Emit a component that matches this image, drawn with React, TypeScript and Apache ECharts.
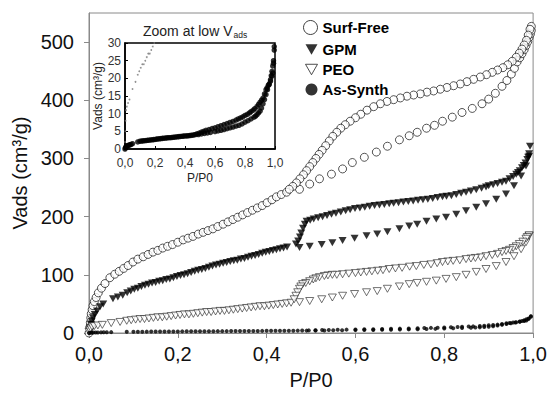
import { useEffect, useRef } from 'react';
import * as echarts from 'echarts';

const FONT = '"Liberation Sans", Arial, Helvetica, sans-serif';
const TRI_DOWN = 'path://M0,0L10,0L5,8.7Z';

const seriesNames = ['Surf-Free', 'GPM', 'PEO', 'As-Synth'];

const surfFreeAds: [number, number][] = [
  [0, 0], [0.002, 10], [0.003, 18], [0.004, 26], [0.005, 33], [0.007, 40], [0.009, 47], [0.012, 54],
  [0.016, 61], [0.021, 69], [0.028, 77], [0.036, 85], [0.047, 95], [0.058, 101], [0.068, 106], [0.078, 111],
  [0.088, 116], [0.099, 122], [0.11, 127], [0.122, 131], [0.133, 135], [0.144, 139], [0.155, 142], [0.166, 146],
  [0.177, 149], [0.188, 152], [0.2, 156], [0.212, 160], [0.223, 163], [0.234, 166], [0.246, 170], [0.257, 173],
  [0.268, 176], [0.279, 179], [0.29, 183], [0.302, 187], [0.313, 191], [0.324, 195], [0.335, 199], [0.346, 203],
  [0.357, 207], [0.368, 211], [0.379, 215], [0.39, 219], [0.401, 224], [0.412, 229], [0.422, 234], [0.433, 238],
  [0.445, 242], [0.474, 247], [0.497, 256], [0.519, 265], [0.546, 273], [0.571, 282], [0.593, 293], [0.62, 302],
  [0.647, 311], [0.672, 321], [0.699, 332], [0.721, 339], [0.739, 345], [0.76, 352], [0.778, 357], [0.796, 364],
  [0.818, 371], [0.84, 379], [0.863, 386], [0.885, 394], [0.9, 402], [0.915, 412], [0.93, 424], [0.941, 434],
  [0.951, 445], [0.958, 455], [0.964, 466], [0.97, 473], [0.975, 480], [0.98, 487], [0.984, 494], [0.988, 501],
  [0.991, 508], [0.994, 514], [0.996, 520],
];
const surfFreeDes: [number, number][] = [
  [0.996, 527], [0.993, 522], [0.989, 512], [0.985, 503], [0.98, 495], [0.975, 488], [0.969, 481], [0.962, 474],
  [0.953, 467], [0.943, 461], [0.932, 456], [0.92, 452], [0.908, 448], [0.895, 444], [0.881, 440], [0.866, 436],
  [0.851, 432], [0.836, 428], [0.821, 425], [0.806, 422], [0.791, 419], [0.776, 416], [0.761, 414], [0.746, 411],
  [0.731, 409], [0.716, 407], [0.701, 404], [0.686, 401], [0.671, 398], [0.656, 394], [0.641, 389], [0.626, 383],
  [0.612, 376], [0.6, 370], [0.588, 364], [0.577, 358], [0.567, 352], [0.558, 345], [0.549, 338], [0.541, 330],
  [0.533, 322], [0.525, 314], [0.518, 307], [0.511, 300], [0.504, 293], [0.497, 286], [0.49, 279], [0.483, 272],
  [0.475, 265], [0.467, 258], [0.459, 252], [0.451, 247],
];

const gpmAds: [number, number][] = [
  [0, 3], [0.002, 9], [0.004, 15], [0.006, 20], [0.009, 26], [0.013, 32], [0.018, 38], [0.025, 45], [0.032, 50],
  [0.054, 59], [0.065, 62], [0.076, 65], [0.086, 69], [0.094, 72], [0.102, 75], [0.11, 77], [0.118, 80],
  [0.126, 82], [0.134, 84], [0.142, 86], [0.15, 87], [0.158, 89], [0.166, 90], [0.174, 92], [0.182, 93],
  [0.19, 95], [0.198, 97], [0.206, 99], [0.214, 100], [0.222, 102], [0.23, 104], [0.238, 106], [0.246, 108],
  [0.254, 109], [0.262, 111], [0.27, 113], [0.278, 115], [0.286, 117], [0.294, 118], [0.302, 120], [0.31, 121],
  [0.318, 123], [0.326, 124], [0.334, 125], [0.342, 127], [0.35, 128], [0.358, 130], [0.366, 132], [0.374, 133],
  [0.382, 135], [0.39, 137], [0.398, 139], [0.406, 140], [0.414, 142], [0.422, 143], [0.43, 145], [0.438, 146],
  [0.446, 148], [0.474, 147], [0.497, 149], [0.524, 152], [0.548, 155], [0.571, 159], [0.598, 163], [0.625, 167],
  [0.649, 170], [0.672, 174], [0.699, 179], [0.721, 184], [0.739, 187], [0.76, 192], [0.782, 196], [0.804, 199],
  [0.827, 204], [0.849, 210], [0.872, 216], [0.894, 222], [0.917, 230], [0.939, 239], [0.957, 253], [0.973, 270],
  [0.984, 287], [0.991, 304],
];
const gpmDes: [number, number][] = [
  [0.993, 321], [0.991, 308], [0.989, 302], [0.987, 298], [0.983, 292], [0.979, 288], [0.975, 284], [0.97, 279],
  [0.966, 276], [0.962, 273], [0.955, 269], [0.947, 265], [0.939, 261], [0.93, 259], [0.92, 257], [0.91, 255],
  [0.9, 253], [0.894, 251], [0.884, 249], [0.872, 246], [0.86, 244], [0.849, 242], [0.838, 240], [0.827, 238],
  [0.816, 236], [0.805, 235], [0.796, 234], [0.785, 233], [0.774, 231], [0.763, 230], [0.752, 229], [0.741, 228],
  [0.73, 227], [0.719, 226], [0.708, 225], [0.697, 224], [0.686, 223], [0.676, 222], [0.665, 221], [0.654, 220],
  [0.643, 219], [0.632, 218], [0.621, 216], [0.61, 215], [0.599, 214], [0.588, 212], [0.578, 210], [0.567, 208],
  [0.556, 206], [0.546, 204], [0.536, 202], [0.526, 200], [0.516, 198], [0.506, 196], [0.498, 194], [0.49, 192],
  [0.486, 187], [0.482, 180], [0.478, 172], [0.475, 165], [0.471, 158], [0.466, 153],
];

const peoAds: [number, number][] = [
  [0, 2], [0.002, 5], [0.004, 8], [0.007, 11], [0.012, 12], [0.02, 13], [0.03, 14], [0.05, 17], [0.07, 19],
  [0.085, 21], [0.095, 22], [0.105, 23], [0.115, 24], [0.125, 24], [0.135, 25], [0.145, 26], [0.155, 27],
  [0.165, 27], [0.175, 28], [0.185, 29], [0.195, 30], [0.205, 31], [0.215, 32], [0.225, 32], [0.235, 33],
  [0.245, 34], [0.255, 35], [0.265, 36], [0.275, 36], [0.285, 37], [0.295, 38], [0.305, 38], [0.315, 39],
  [0.325, 40], [0.335, 41], [0.345, 42], [0.355, 43], [0.365, 44], [0.375, 45], [0.385, 46], [0.395, 46],
  [0.405, 47], [0.415, 48], [0.425, 49], [0.435, 50], [0.445, 51], [0.455, 52], [0.474, 53], [0.497, 55],
  [0.524, 58], [0.548, 61], [0.571, 64], [0.598, 67], [0.625, 70], [0.649, 72], [0.672, 76], [0.699, 80],
  [0.721, 84], [0.739, 86], [0.76, 88], [0.782, 90], [0.804, 93], [0.827, 96], [0.849, 100], [0.872, 105],
  [0.894, 110], [0.917, 115], [0.939, 122], [0.957, 132], [0.973, 144], [0.984, 156], [0.991, 167],
];
const peoDes: [number, number][] = [
  [0.991, 168], [0.987, 165], [0.984, 162], [0.977, 157], [0.969, 153], [0.962, 149], [0.955, 146], [0.947, 143],
  [0.939, 141], [0.93, 139], [0.92, 136], [0.908, 134], [0.894, 132], [0.882, 130], [0.87, 129], [0.86, 128],
  [0.849, 127], [0.835, 125], [0.82, 124], [0.808, 123], [0.796, 122], [0.784, 120], [0.77, 118], [0.754, 117],
  [0.737, 115], [0.722, 114], [0.705, 112], [0.69, 111], [0.676, 110], [0.662, 108], [0.65, 107], [0.637, 106],
  [0.625, 105], [0.612, 104], [0.6, 103], [0.585, 102], [0.571, 101], [0.558, 100], [0.548, 100], [0.538, 99],
  [0.53, 98], [0.519, 96], [0.511, 94], [0.505, 92], [0.497, 89], [0.488, 86], [0.481, 84], [0.477, 80],
  [0.474, 76], [0.47, 70], [0.466, 64], [0.462, 58],
];

const asSynthAds: [number, number][] = [
  [0, 0], [0.003, 0.3], [0.006, 0.6], [0.01, 0.8], [0.015, 0.9], [0.02, 1.0], [0.027, 1.1], [0.033, 1.2],
  [0.04, 1.3], [0.05, 1.5], [0.085, 2.0], [0.1, 2.2], [0.11, 2.25], [0.12, 2.3], [0.13, 2.35], [0.14, 2.4],
  [0.15, 2.45], [0.16, 2.5], [0.17, 2.55], [0.18, 2.6], [0.19, 2.65], [0.2, 2.7], [0.21, 2.8], [0.22, 2.85],
  [0.23, 2.9], [0.24, 2.95], [0.25, 3.0], [0.26, 3.05], [0.27, 3.1], [0.28, 3.15], [0.29, 3.2], [0.3, 3.2],
  [0.31, 3.25], [0.32, 3.3], [0.33, 3.35], [0.34, 3.4], [0.35, 3.45], [0.36, 3.5], [0.37, 3.55], [0.38, 3.6],
  [0.39, 3.65], [0.4, 3.7], [0.41, 3.7], [0.42, 3.75], [0.43, 3.8], [0.44, 3.85], [0.45, 3.9], [0.46, 4.0],
  [0.49, 4.1], [0.51, 4.25], [0.53, 4.4], [0.55, 4.55], [0.57, 4.7], [0.6, 4.95], [0.62, 5.1], [0.64, 5.3],
  [0.66, 5.5], [0.68, 5.75], [0.7, 6.0], [0.72, 6.2], [0.74, 6.5], [0.76, 6.7], [0.78, 7.1], [0.8, 7.6],
  [0.82, 8.0], [0.84, 8.5], [0.86, 9.0], [0.87, 9.3], [0.88, 9.7], [0.89, 10.2], [0.9, 10.7], [0.91, 11.6],
  [0.92, 12.8], [0.93, 14], [0.94, 15.4], [0.95, 16.8], [0.96, 18.2], [0.97, 19.6], [0.975, 20.8], [0.98, 22],
  [0.985, 23.5], [0.99, 25], [0.995, 29],
];
const asSynthDes: [number, number][] = [
  [0.995, 28], [0.99, 24.3], [0.985, 21.5], [0.98, 20.6], [0.97, 19.2], [0.962, 18.4], [0.955, 18],
  [0.947, 17.3], [0.94, 16.8], [0.93, 15.6], [0.92, 14.4], [0.91, 13.8], [0.9, 13.2], [0.89, 12.6],
  [0.88, 12], [0.865, 11.4], [0.855, 11], [0.84, 10.6], [0.83, 10.2], [0.815, 9.8], [0.8, 9.5], [0.785, 9.1],
  [0.77, 8.8], [0.755, 8.5], [0.74, 8.2], [0.72, 7.8], [0.7, 7.5], [0.68, 7.2], [0.66, 6.9], [0.64, 6.6],
  [0.62, 6.3], [0.6, 6.0], [0.58, 5.8], [0.56, 5.5], [0.54, 5.3], [0.525, 5.0], [0.51, 4.8], [0.495, 4.5],
  [0.48, 4.3], [0.47, 4.1],
];

const fmt = (v: number) => v.toFixed(1).replace('.', ',');

export default function App() {
  const ref = useRef<HTMLDivElement>(null);
  useEffect(() => {
    document.body.style.margin = '0';
    const chart = echarts.init(ref.current!, null, { renderer: 'svg' });
    const gray = '#8a8a8a';
    chart.setOption({
      animation: false,
      backgroundColor: '#fff',
      textStyle: { fontFamily: FONT },
      grid: [
        { left: 89, right: 16, top: 13, bottom: 61, show: true, borderColor: gray, borderWidth: 1 },
        { left: 125, right: 275, top: 43, bottom: 246, show: true, borderColor: '#000', borderWidth: 1.5 },
      ],
      xAxis: [
        {
          gridIndex: 0, type: 'value', min: 0, max: 1, interval: 0.2,
          name: 'P/P0', nameLocation: 'middle', nameGap: 37,
          nameTextStyle: { fontSize: 20, color: '#111', fontFamily: FONT },
          axisLine: { lineStyle: { color: gray } },
          axisTick: { show: true, length: 5, lineStyle: { color: gray } },
          axisLabel: { fontSize: 20, margin: 11, color: '#111', fontFamily: FONT, formatter: fmt },
          splitLine: { show: false },
        },
        {
          gridIndex: 1, type: 'value', min: 0, max: 1, interval: 0.2,
          name: 'P/P0', nameLocation: 'middle', nameGap: 23,
          nameTextStyle: { fontSize: 12, color: '#222', fontFamily: FONT },
          axisLine: { lineStyle: { color: '#000', width: 1.5 } },
          axisTick: { show: true, inside: true, length: 3, lineStyle: { color: '#000' } },
          axisLabel: { fontSize: 12, margin: 8, color: '#333', fontFamily: FONT, formatter: fmt },
          splitLine: { show: false },
        },
      ],
      yAxis: [
        {
          gridIndex: 0, type: 'value', min: 0, max: 550, interval: 100,
          name: 'Vads (cm³/g)', nameLocation: 'middle', nameGap: 58,
          nameTextStyle: { fontSize: 20, color: '#111', fontFamily: FONT },
          axisLine: { show: true, lineStyle: { color: gray } },
          axisTick: { show: true, length: 5, lineStyle: { color: gray } },
          axisLabel: { fontSize: 20, margin: 15, color: '#111', fontFamily: FONT, showMaxLabel: false },
          splitLine: { show: false },
        },
        {
          gridIndex: 1, type: 'value', min: 0, max: 30, interval: 5,
          name: 'Vads (cm³/g)', nameLocation: 'middle', nameGap: 21,
          nameTextStyle: { fontSize: 12, color: '#222', fontFamily: FONT },
          axisLine: { show: true, lineStyle: { color: '#000', width: 1.5 } },
          axisTick: { show: true, inside: true, length: 3, lineStyle: { color: '#000' } },
          axisLabel: { fontSize: 12, margin: 4, color: '#333', fontFamily: FONT },
          splitLine: { show: false },
        },
      ],
      legend: [
        {
          data: [{ name: seriesNames[0], icon: 'circle' }],
          left: 303, top: 20, padding: 0, orient: 'vertical', itemWidth: 14, itemHeight: 14,
          selectedMode: false,
          itemStyle: { borderWidth: 1 },
          textStyle: { fontSize: 15, lineHeight: 14, fontWeight: 'bold', color: '#000', fontFamily: FONT },
        },
        {
          data: [
            { name: seriesNames[1], icon: TRI_DOWN },
            { name: seriesNames[2], icon: TRI_DOWN },
            { name: seriesNames[3], icon: 'circle' },
          ],
          left: 305, top: 42, padding: 0, orient: 'vertical', itemWidth: 12, itemHeight: 12, itemGap: 5,
          selectedMode: false,
          itemStyle: { borderWidth: 1 },
          textStyle: { fontSize: 15, lineHeight: 12, fontWeight: 'bold', color: '#000', fontFamily: FONT },
        },
      ],
      graphic: [
        {
          type: 'text', x: 143, y: 23,
          style: {
            text: '{a|Zoom at low V}{b|ads}',
            fontFamily: FONT,
            fill: '#222',
            rich: {
              a: { fontSize: 14, fontFamily: 'Liberation Sans', fill: '#222', lineHeight: 16 },
              b: { fontSize: 8.5, fontFamily: 'Liberation Sans', fill: '#222', lineHeight: 16, padding: [8, 0, 0, 1] },
            },
          },
        },
      ],
      series: [
        {
          name: seriesNames[0], type: 'scatter', xAxisIndex: 0, yAxisIndex: 0,
          data: [...surfFreeAds, ...surfFreeDes], symbol: 'circle', symbolSize: 8,
          itemStyle: { color: '#fff', borderColor: '#111', borderWidth: 0.9 },
        },
        {
          name: seriesNames[1], type: 'scatter', xAxisIndex: 0, yAxisIndex: 0,
          data: [...gpmAds, ...gpmDes], symbol: TRI_DOWN, symbolSize: [8, 7],
          itemStyle: { color: '#000' },
        },
        {
          name: seriesNames[2], type: 'scatter', xAxisIndex: 0, yAxisIndex: 0,
          data: [...peoAds, ...peoDes], symbol: TRI_DOWN, symbolSize: [8, 7],
          itemStyle: { color: '#fff', borderColor: '#222', borderWidth: 0.8 },
        },
        {
          name: seriesNames[3], type: 'scatter', xAxisIndex: 0, yAxisIndex: 0,
          data: [...asSynthAds, ...asSynthDes], symbol: 'circle', symbolSize: 4,
          itemStyle: { color: '#000' },
        },
        {
          name: 'PEO inset', type: 'scatter', xAxisIndex: 1, yAxisIndex: 1, clip: true,
          data: [...peoAds, ...peoDes], symbol: 'circle', symbolSize: 1.8,
          itemStyle: { color: '#777' },
        },
        {
          name: 'As-Synth inset', type: 'scatter', xAxisIndex: 1, yAxisIndex: 1, clip: true,
          data: [...asSynthAds, ...asSynthDes], symbol: 'circle', symbolSize: 5.5,
          itemStyle: { color: '#000' },
        },
      ],
    });
    return () => chart.dispose();
  }, []);
  return <div ref={ref} style={{ width: 550, height: 395 }} />;
}
